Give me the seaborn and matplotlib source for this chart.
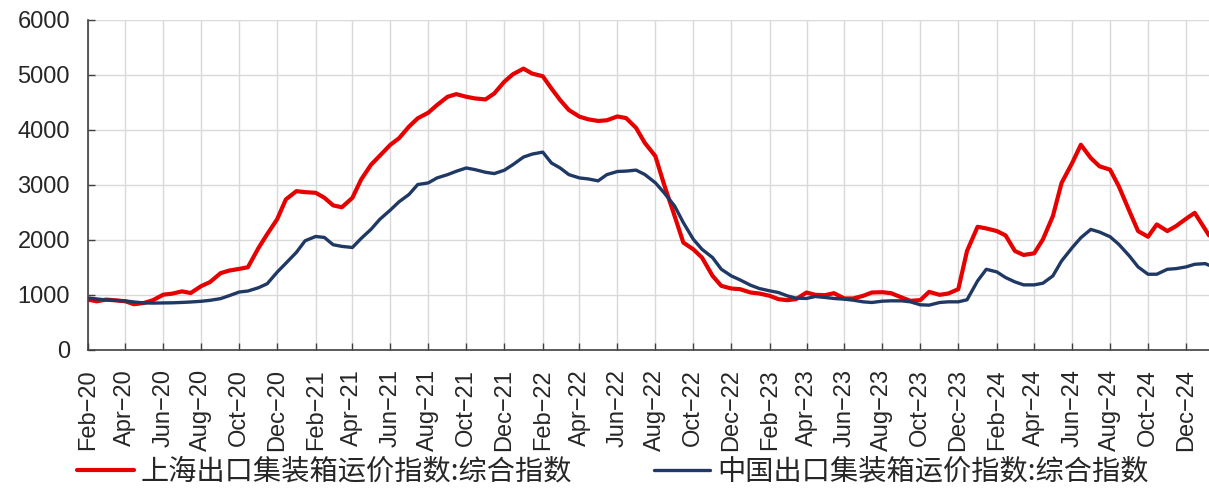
import matplotlib
matplotlib.use("Agg")
import matplotlib.dates as mdates
import matplotlib.pyplot as plt
import pandas as pd
import seaborn as sns

# semi-monthly readings (1st and 15th of each month), last point early Jan 2025
dates = list(pd.date_range("2020-02-01", "2025-01-01", freq="SMS")) + [pd.Timestamp("2025-01-07")]

scfi = [
    # 2020 Feb-Dec
    913, 883, 913, 901, 883, 829, 853, 901, 1003, 1021, 1063, 1033,
    1159, 1231, 1393, 1441, 1471, 1501, 1850, 2102, 2372, 2733,
    # 2021
    2883, 2865, 2853, 2763, 2625, 2590, 2762, 3093, 3364, 3526, 3725, 3845,
    4056, 4206, 4308, 4447, 4597, 4645, 4597, 4567, 4549, 4657, 4868, 5006,
    # 2022
    5108, 5018, 4970, 4747, 4537, 4356, 4236, 4188, 4158, 4170, 4240, 4210,
    4032, 3760, 3519, 3005, 2431, 1948, 1827, 1676, 1344, 1163, 1115, 1103,
    # 2023
    1042, 1024, 982, 921, 903, 921, 1042, 1000, 994, 1030, 934, 934,
    982, 1042, 1048, 1030, 952, 891, 904, 1054, 1000, 1024, 1103, 1796,
    # 2024
    2236, 2206, 2158, 2079, 1796, 1724, 1754, 2007, 2429, 3032, 3394, 3726,
    3484, 3334, 3273, 2972, 2520, 2158, 2055, 2278, 2158, 2248, 2381, 2489,
    # 2025
    2188, 2079,
]

ccfi = [
    # 2020 Feb-Dec
    943, 925, 907, 900, 889, 870, 853, 850, 853, 855, 862, 870,
    883, 900, 931, 985, 1051, 1069, 1129, 1201, 1411, 1573,
    # 2021
    1772, 1982, 2060, 2042, 1910, 1880, 1860, 2023, 2191, 2371, 2540, 2690,
    2823, 3003, 3033, 3123, 3183, 3244, 3304, 3274, 3226, 3202, 3262, 3364,
    # 2022
    3502, 3556, 3592, 3394, 3304, 3183, 3123, 3105, 3070, 3183, 3240, 3247,
    3265, 3186, 3035, 2854, 2613, 2311, 2009, 1827, 1676, 1465, 1344, 1272,
    # 2023
    1175, 1115, 1072, 1042, 982, 940, 934, 970, 952, 934, 921, 903,
    873, 861, 885, 891, 891, 873, 819, 813, 861, 873, 873, 910,
    # 2024
    1253, 1464, 1416, 1314, 1235, 1181, 1181, 1211, 1344, 1615, 1856, 2037,
    2188, 2140, 2055, 1917, 1706, 1507, 1374, 1374, 1464, 1476, 1507, 1555,
    # 2025
    1567, 1537,
]

label_sh = "上海出口集装箱运价指数:综合指数"
label_cn = "中国出口集装箱运价指数:综合指数"
y_ticks = [0, 1000, 2000, 3000, 4000, 5000, 6000]

sns.set_theme(style="white")
plt.rcParams["font.family"] = ["Liberation Sans", "Noto Sans CJK SC", "DejaVu Sans"]

fig = plt.figure(figsize=(12.09, 4.88), dpi=100)
ax = fig.add_axes([0.0728, 0.283, 0.9272, 0.677])

sns.lineplot(x=dates, y=scfi, color="#E60000", lw=3.0, label=label_sh, ax=ax)
sns.lineplot(x=dates, y=ccfi, color="#203864", lw=2.4, label=label_cn, ax=ax)

ax.set_xlim(dates[0], dates[-1])
ax.set_ylim(0, 6000)
ax.set_yticks(y_ticks)
ax.xaxis.set_major_locator(mdates.MonthLocator(bymonth=[2, 4, 6, 8, 10, 12]))
ax.xaxis.set_major_formatter(mdates.DateFormatter("%b\u2212%y"))

ax.grid(True, color="#d9d9d9", lw=1.0)
for side in ["top", "right"]:
    ax.spines[side].set_visible(False)
for side in ["left", "bottom"]:
    ax.spines[side].set_color("#404040")
    ax.spines[side].set_linewidth(1.2)

ax.tick_params(axis="y", direction="in", length=5, width=1, color="#404040",
               labelsize=17, pad=13, left=True)
ax.tick_params(axis="x", direction="in", length=5, width=1, color="#404040",
               labelsize=17, pad=14, rotation=90, bottom=True)
for lab in ax.get_xticklabels():
    lab.set_verticalalignment("top")
    lab.set_horizontalalignment("center")

ax.set_xlabel("")
ax.set_ylabel("")

ax.legend(
    loc="center", bbox_to_anchor=(0.507, 0.033), bbox_transform=fig.transFigure,
    ncol=2, frameon=False, handlelength=2.0, handletextpad=0.25, columnspacing=2.9,
    prop={"family": ["Noto Sans CJK SC", "DejaVu Sans"], "size": 20.3},
)

fig.savefig("out.png", dpi=100)
